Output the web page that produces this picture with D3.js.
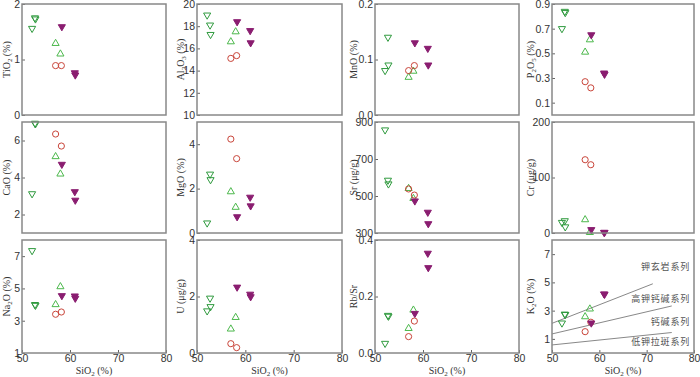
<!DOCTYPE html>
<html>
<head>
<meta charset="utf-8">
<script src="https://cdn.jsdelivr.net/npm/d3@7"></script>
<style>
  body { margin: 0; background: #fff; }
  svg { display: block; font-family: "Liberation Serif", "DejaVu Serif", serif; }
  .tick text { font-size: 10.5px; fill: #333; }
  .cn { font-family: "Noto Sans CJK SC", sans-serif; font-size: 9px; fill: #555; letter-spacing: 0.8px; }
</style>
</head>
<body>
<div id="chart"></div>
<script>
// groups: green open down-triangle, green open up-triangle, red open circle, purple filled down-triangle
const sio2   = [[52.1, 52.7, 52.8], [57.0, 58.0], [57.0, 58.2], [58.3, 61.0, 61.1]];
const tio2   = [[1.56, 1.75, 1.73], [1.29, 1.10], [0.89, 0.89], [1.59, 0.76, 0.72]];
const al2o3  = [[19.0, 18.1, 17.25], [16.6, 17.5], [15.1, 15.35], [18.4, 17.6, 16.5]];
const mno    = [[0.080, 0.140, 0.090], [0.068, 0.079], [0.080, 0.089], [0.130, 0.120, 0.090]];
const p2o5   = [[0.70, 0.84, 0.83], [0.51, 0.61], [0.27, 0.22], [0.65, 0.34, 0.33]];
const cao    = [[3.12, 6.93, 6.90], [5.13, 4.19], [6.35, 5.70], [4.71, 3.23, 2.77]];
const mgo    = [[0.45, 2.65, 2.40], [1.86, 1.16], [4.23, 3.35], [0.73, 1.61, 1.22]];
const sr     = [[857, 585, 565], [541, 487], [538, 505], [473, 412, 350]];
const cr     = [[19, 22, 11], [24, 1], [132, 123], [6, 1, 1]];
const na2o   = [[7.34, 4.00, 3.95], [4.00, 5.11], [3.40, 3.54], [4.55, 4.53, 4.39]];
const u      = [[1.49, 1.94, 1.64], [0.85, 1.26], [0.33, 0.19], [2.33, 2.08, 1.99]];
const rbsr   = [[0.034, 0.133, 0.130], [0.087, 0.152], [0.058, 0.113], [0.140, 0.353, 0.302]];
const k2o    = [[2.12, 2.75, 2.72], [2.57, 3.12], [1.51, 2.18], [2.12, 4.18, 4.15]];

const xTicks = [50, 60, 70, 80];
const k2oLines = [
  [[50, 2.10], [71.3, 4.90]],
  [[50, 1.35], [75.3, 3.33]],
  [[50, 0.57], [75.3, 1.45]]
];
const seriesNames = ["钾玄岩系列", "高钾钙碱系列", "钙碱系列", "低钾拉斑系列"];
const seriesNameY = [6.1, 3.85, 2.2, 0.8];

const panels = [
  { v: tio2,  lab: [["TiO"], ["2", 1], [" (%)"]],      dom: [0, 2],     ticks: [0, 1, 2],                 fmt: "d" },
  { v: al2o3, lab: [["Al"], ["2", 1], ["O"], ["3", 1], [" (%)"]], dom: [10, 20], ticks: [10, 12, 14, 16, 18, 20], fmt: "d" },
  { v: mno,   lab: [["MnO (%)"]],                      dom: [0, 0.2],   ticks: [0, 0.1, 0.2],             fmt: ".1f" },
  { v: p2o5,  lab: [["P"], ["2", 1], ["O"], ["5", 1], [" (%)"]], dom: [0, 0.9], ticks: [0.1, 0.3, 0.5, 0.7, 0.9], fmt: ".1f" },
  { v: cao,   lab: [["CaO (%)"]],                      dom: [1, 7],     ticks: [2, 4, 6],                 fmt: "d" },
  { v: mgo,   lab: [["MgO (%)"]],                      dom: [0, 5],     ticks: [0, 2, 4],                 fmt: "d" },
  { v: sr,    lab: [["Sr (μg/g)"]],                    dom: [300, 900], ticks: [300, 500, 700, 900],      fmt: "d" },
  { v: cr,    lab: [["Cr (μg/g)"]],                    dom: [0, 200],   ticks: [0, 100, 200],             fmt: "d" },
  { v: na2o,  lab: [["Na"], ["2", 1], ["O (%)"]],      dom: [1, 8],     ticks: [1, 3, 5, 7],              fmt: "d" },
  { v: u,     lab: [["U (μg/g)"]],                     dom: [0, 4],     ticks: [0, 2, 4],                 fmt: "d" },
  { v: rbsr,  lab: [["Rb/Sr"]],                        dom: [0, 0.4],   ticks: [0, 0.2, 0.4],             fmt: ".1f" },
  { v: k2o,   lab: [["K"], ["2", 1], ["O (%)"]],       dom: [0, 8],     ticks: [1, 3, 5, 7],              fmt: "d" }
];

const colLeft = [22, 197, 375, 552];
const colW = [144, 145, 144, 142];
const labOff = [16, 17, 22, 22];
const rowTop = [4, 122, 240];
const rowH = [111, 111, 113];

const colors = ["#2f9a3e", "#4cb84c", "#c9453a", "#8a1d70"];

const svg = d3.select("#chart").append("svg")
  .attr("width", 700).attr("height", 377);

const tri = d3.symbol().type(d3.symbolTriangle).size(22);
const circ = d3.symbol().type(d3.symbolCircle).size(30);

panels.forEach((p, i) => {
  const c = i % 4, r = Math.floor(i / 4);
  const w = colW[c], h = rowH[r];
  const g = svg.append("g").attr("transform", `translate(${colLeft[c]},${rowTop[r]})`);

  const x = d3.scaleLinear().domain([50, 80]).range([0, w]);
  const y = d3.scaleLinear().domain(p.dom).range([h, 0]);

  // y axis
  const ya = g.append("g")
    .call(d3.axisLeft(y).tickValues(p.ticks).tickFormat(d3.format(p.fmt))
      .tickSizeInner(-3).tickSizeOuter(0).tickPadding(2));
  ya.select(".domain").remove();
  ya.selectAll("line").attr("stroke", "#666");

  // x axis on the bottom row only
  if (r === 2) {
    const xa = g.append("g").attr("transform", `translate(0,${h})`)
      .call(d3.axisBottom(x).tickValues(xTicks).tickSizeInner(-3).tickSizeOuter(0).tickPadding(2));
    xa.select(".domain").remove();
    xa.selectAll("line").attr("stroke", "#666");
    g.append("text")
      .attr("x", w / 2).attr("y", h + 21)
      .attr("text-anchor", "middle")
      .style("font-size", "10px").style("fill", "#333")
      .call(t => {
        t.append("tspan").text("SiO");
        t.append("tspan").text("2").style("font-size", "7px").attr("dy", 2);
        t.append("tspan").text(" (%)").attr("dy", -2);
      });
  }

  // y label
  const yl = g.append("text")
    .attr("transform", `translate(${-labOff[c]},${h / 2}) rotate(-90)`)
    .attr("text-anchor", "middle")
    .attr("dy", "0.35em")
    .style("font-size", "10px").style("fill", "#333");
  let shifted = false;
  p.lab.forEach(([t, sub]) => {
    const ts = yl.append("tspan").text(t);
    if (sub) { ts.style("font-size", "7px").attr("dy", 2); shifted = true; }
    else if (shifted) { ts.attr("dy", -2); shifted = false; }
  });

  // K2O classification lines
  if (i === 11) {
    const line = d3.line().x(d => x(d[0])).y(d => y(d[1]));
    g.selectAll(".kline").data(k2oLines).enter().append("path")
      .attr("d", line).attr("fill", "none").attr("stroke", "#888").attr("stroke-width", 1);
    g.selectAll(".cn").data(seriesNames).enter().append("text")
      .attr("class", "cn")
      .attr("x", w - 4)
      .attr("y", (d, j) => y(seriesNameY[j]))
      .attr("dy", "0.35em")
      .attr("text-anchor", "end")
      .text(d => d);
  }

  // points
  p.v.forEach((vals, gi) => {
    vals.forEach((val, k) => {
      const px = x(sio2[gi][k]), py = y(val);
      const sym = g.append("path").attr("stroke", colors[gi]).attr("stroke-width", 1);
      if (gi === 2) {
        sym.attr("d", circ).attr("fill", "none")
          .attr("transform", `translate(${px},${py})`);
      } else if (gi === 1) {
        sym.attr("d", tri).attr("fill", "none")
          .attr("transform", `translate(${px},${py})`);
      } else {
        sym.attr("d", tri).attr("fill", gi === 3 ? colors[3] : "none")
          .attr("transform", `translate(${px},${py}) rotate(180)`);
      }
    });
  });

  // frame
  g.append("rect").attr("width", w).attr("height", h)
    .attr("fill", "none").attr("stroke", "#888").attr("stroke-width", 1.5);
});
</script>
</body>
</html>
